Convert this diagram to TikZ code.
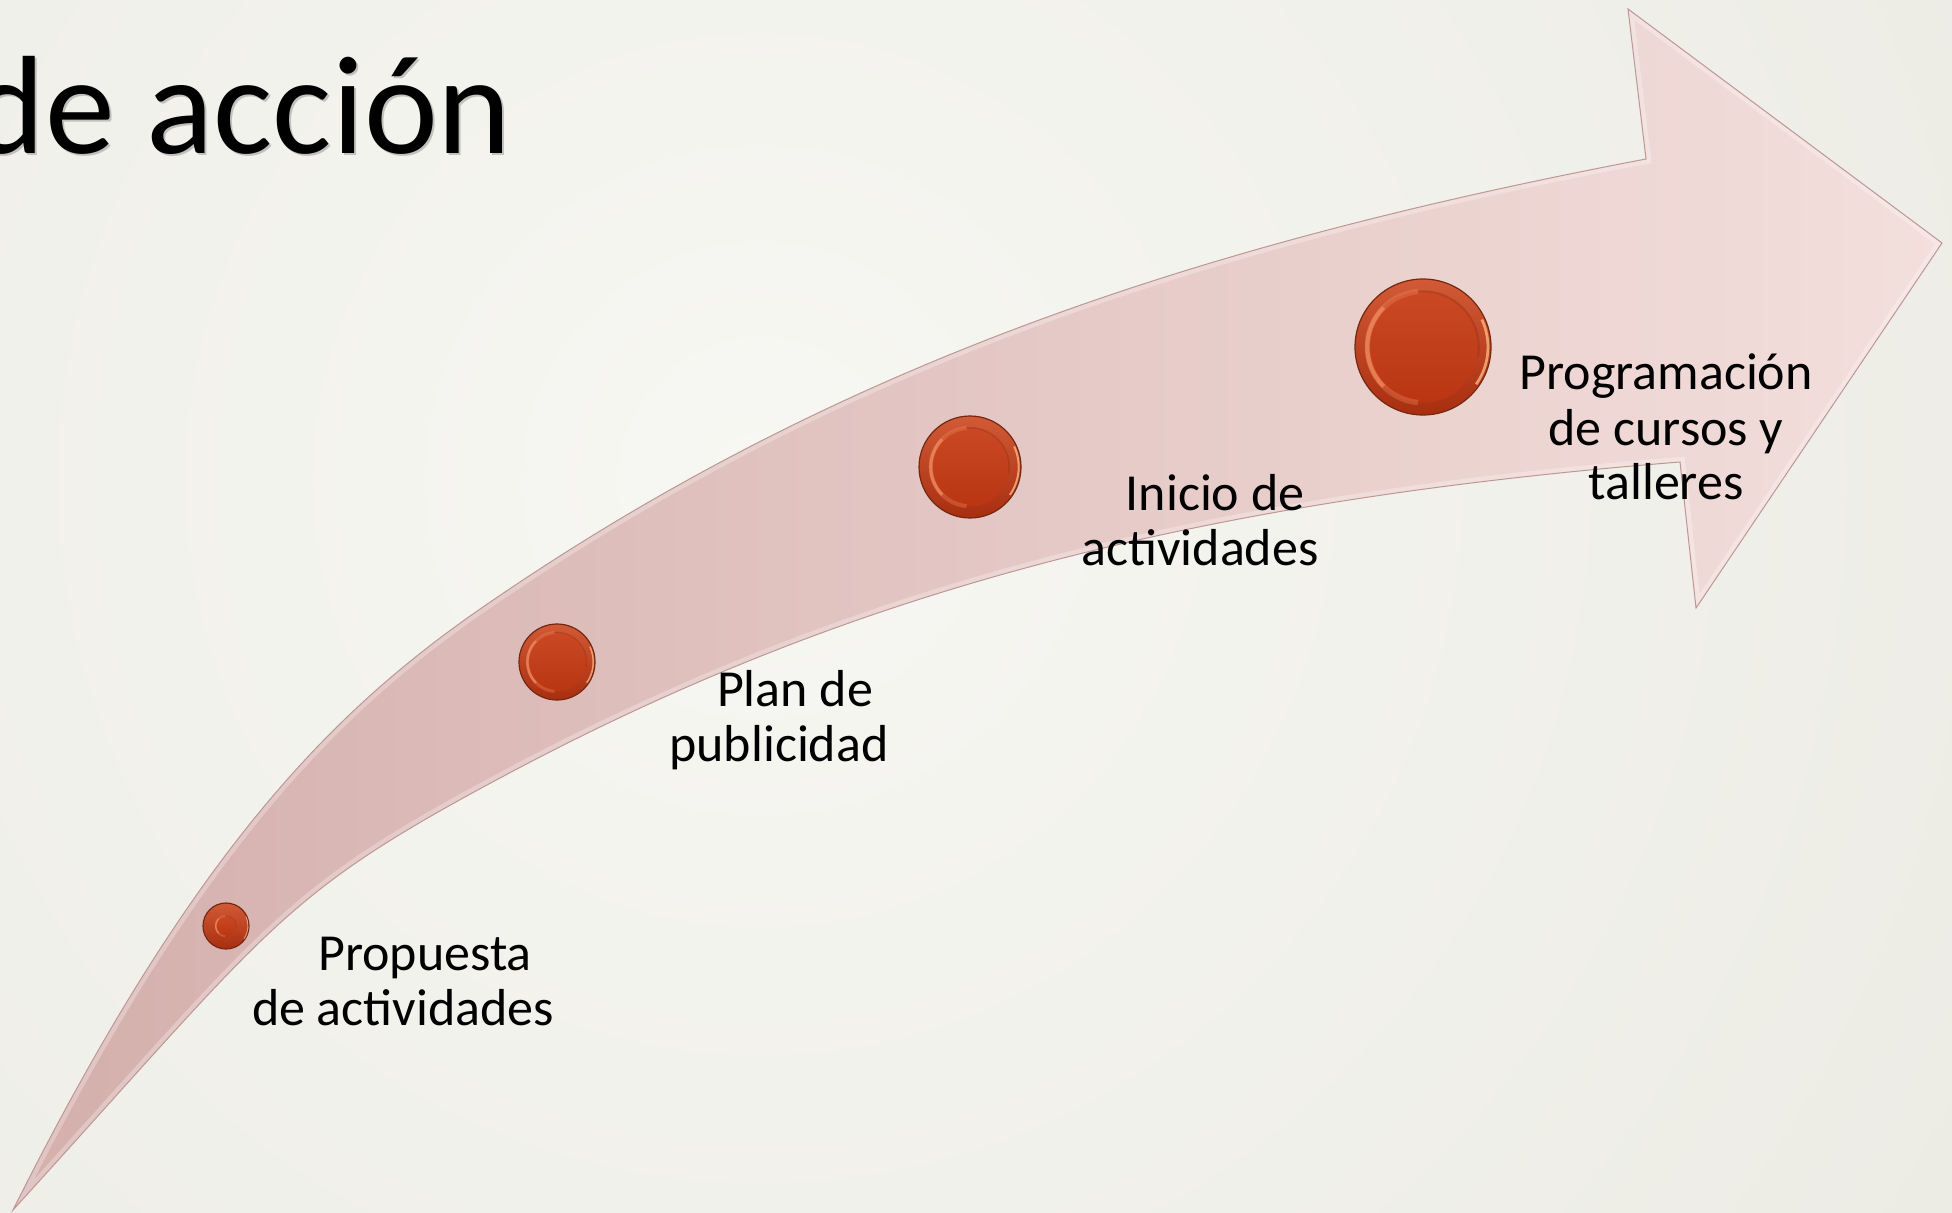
\documentclass[tikz,border=0pt]{standalone}
\usepackage{fontspec}
\setmainfont{Carlito}
\definecolor{bgbase}{RGB}{229,228,219}
\definecolor{bgin}{RGB}{247,247,243}
\definecolor{bandDark}{RGB}{212,175,172}
\definecolor{bandLight}{RGB}{243,223,220}
\definecolor{bandEdge}{RGB}{190,150,147}
\definecolor{btnTop}{RGB}{210,90,54}
\definecolor{btnBot}{RGB}{168,46,16}
\definecolor{btnFaceTop}{RGB}{202,72,36}
\definecolor{btnFaceBot}{RGB}{186,54,18}
\definecolor{btnLine}{RGB}{115,40,18}
\definecolor{btnHl}{RGB}{238,135,92}
\definecolor{btnRim}{RGB}{252,190,135}
\newcommand\drawbutton[3]{%
  \shade[top color=btnTop, bottom color=btnBot] (#1) circle[radius=#2pt];
  \draw[btnLine, line width=0.6pt] (#1) circle[radius=#2pt];
  \shade[top color=btnFaceTop, bottom color=btnFaceBot] (#1) circle[radius=#3*#2pt];
  \draw[btnHl, opacity=.35, line width=0.08*#2pt] (#1) ++(95:#3*#2pt) arc[start angle=95, end angle=265, radius=#3*#2pt];
  \draw[btnHl, opacity=.8, line width=0.06*#2pt] (#1) ++(135:#3*#2pt) arc[start angle=135, end angle=225, radius=#3*#2pt];
  \draw[btnLine, opacity=.25, line width=0.03*#2pt] (#1) ++(-10:#3*#2pt) arc[start angle=-10, end angle=95, radius=#3*#2pt];
  \draw[btnRim, line width=0.04*#2pt, opacity=.75] (#1) ++(-35:0.955*#2pt) arc[start angle=-35, end angle=25, radius=0.955*#2pt];
}
\def\bandpath{(13,1210) .. controls (193,850) and (333,710.5) .. (483,607) .. controls (833,365.5) and (1196,244.5) .. (1646,159) -- (1628,9) -- (1942,243) -- (1696,608) -- (1680,462) .. controls (1180,502) and (840,596) .. (500,778) .. controls (280,895.7) and (273,924) .. (13,1210) -- cycle}
\tikzset{
  lbl/.style={font=\fontsize{26}{27.5}\selectfont, align=center, inner sep=0pt, anchor=base, text=black},
  ttl/.style={font=\fontsize{70}{84}\selectfont, inner sep=0pt, anchor=base east}
}
\begin{document}
\begin{tikzpicture}[x=0.5pt, y=-0.5pt]
\useasboundingbox (0,0) rectangle (1952,1213);
% background
\fill[bgbase] (0,0) rectangle (1952,1213);
\begin{scope}
  \clip (0,0) rectangle (1952,1213);
  \shade[inner color=bgin, outer color=bgbase] (760,480) circle[radius=1150pt];
\end{scope}
% title
\node[ttl, text=black!60, opacity=.35] (titleshadow) at (514,156) {de acción};
\node[ttl] (title) at (512,154) {de acción};
% band arrow
\shade[left color=bandDark, right color=bandLight] \bandpath;
\begin{scope}
  \clip \bandpath;
  \draw[white, opacity=.28, line width=5pt] \bandpath;
\end{scope}
\draw[bandEdge, line width=0.5pt, line join=miter] \bandpath;
% buttons
\coordinate (c1) at (226,926);
\coordinate (c2) at (557,662);
\coordinate (c3) at (970,467);
\coordinate (c4) at (1423,347);
\drawbutton{c1}{11.5}{0.45}
\drawbutton{c2}{19}{0.78}
\drawbutton{c3}{25.5}{0.77}
\drawbutton{c4}{34}{0.82}
% labels
\node[lbl] (l1) at (403,1025) {\hspace*{22pt}Propuesta\\de actividades};
\node[lbl] (l2) at (779,761) {\hspace*{16pt}Plan de\\publicidad};
\node[lbl] (l3) at (1200,565) {\hspace*{15pt}Inicio de\\actividades};
\node[lbl] (l4) at (1666,500) {Programación\\de cursos y\\talleres};
\end{tikzpicture}
\end{document}
